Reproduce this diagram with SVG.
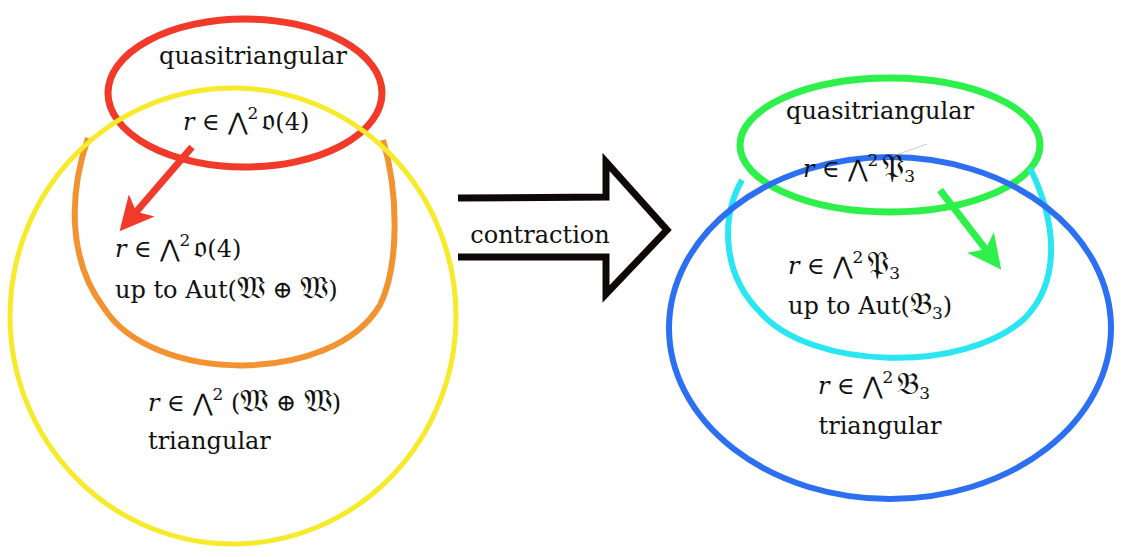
<svg xmlns="http://www.w3.org/2000/svg" width="1125" height="557" viewBox="0 0 1125 557">
<style>
.t{font-family:"DejaVu Serif","Liberation Serif",serif;font-size:24px;fill:#111}
.m{font-size:24px}
.i{font-style:italic}
.f{font-family:"DejaVu Sans","Noto Sans",serif;font-size:31px}
.s{font-size:17px}
</style>
<defs>
<marker id="ahR" viewBox="0 0 10 10" refX="8" refY="5" markerWidth="34" markerHeight="34" markerUnits="userSpaceOnUse" orient="auto"><path d="M0,0 L10,5 L0,10 L2.5,5 z" fill="#f23a2a"/></marker>
<marker id="ahG" viewBox="0 0 10 10" refX="8" refY="5" markerWidth="34" markerHeight="34" markerUnits="userSpaceOnUse" orient="auto"><path d="M0,0 L10,5 L0,10 L2.5,5 z" fill="#2ef04a"/></marker>
</defs>
<rect width="1125" height="557" fill="#fff"/>
<g id="left">
<g id="quasi-left"><ellipse cx="245" cy="93" rx="137" ry="74" fill="none" stroke="#f23a2a" stroke-width="7"/></g>
<g id="aut-left"><path d="M88,138 C70,190 66,258 104,308 C152,384 332,386 380,305 C400,264 398,190 383,140" fill="none" stroke="#f39230" stroke-width="6"/></g>
<g id="tri-left"><ellipse cx="233" cy="316" rx="223" ry="228" fill="none" stroke="#f6ea2a" stroke-width="5"/></g>
</g>
<g id="right">
<g id="quasi-right"><ellipse cx="890" cy="145" rx="150" ry="67" fill="none" stroke="#2ef04a" stroke-width="7"/></g>
<g id="aut-right"><path d="M742,180 C722,215 720,272 760,312 C810,370 965,374 1025,318 C1060,282 1058,225 1030,168" fill="none" stroke="#2ae6f2" stroke-width="6"/></g>
<g id="tri-right"><ellipse cx="890" cy="328" rx="221" ry="171" fill="none" stroke="#2c6ff0" stroke-width="6"/></g>
</g>
<g id="connectors">
<line x1="192" y1="147" x2="124" y2="226" stroke="#f23a2a" stroke-width="7" marker-end="url(#ahR)"/>
<line x1="940" y1="190" x2="997" y2="264" stroke="#2ef04a" stroke-width="7" marker-end="url(#ahG)"/>
<polyline points="458,198 606,197 606,162 667,230 606,294 606,257 458,257" fill="none" stroke="#0e0808" stroke-width="7" stroke-linejoin="miter"/>
<line x1="893" y1="156" x2="927" y2="144" stroke="#bbb" stroke-width="0.8"/>
</g>
<g id="labels">
<text class="t" x="253" y="64" text-anchor="middle">quasitriangular</text>
<text class="t m" x="183" y="130"><tspan class="i">r</tspan> ∈ ⋀<tspan dy="-11" class="s">2</tspan><tspan dy="11" dx="4" class="f">𝔬</tspan>(4)</text>
<text class="t m" x="115" y="257"><tspan class="i">r</tspan> ∈ ⋀<tspan dy="-11" class="s">2</tspan><tspan dy="11" dx="4" class="f">𝔬</tspan>(4)</text>
<text class="t" x="115" y="298">up to Aut(<tspan class="f">𝔚</tspan> ⊕ <tspan class="f">𝔚</tspan>)</text>
<text class="t m" x="148" y="411"><tspan class="i">r</tspan> ∈ ⋀<tspan dy="-11" class="s">2</tspan><tspan dy="11"> (</tspan><tspan class="f">𝔚</tspan> ⊕ <tspan class="f">𝔚</tspan>)</text>
<text class="t" x="148" y="449">triangular</text>
<text class="t" x="540" y="243" text-anchor="middle">contraction</text>
<text class="t" x="880" y="119" text-anchor="middle">quasitriangular</text>
<text class="t m" x="803" y="177"><tspan class="i">r</tspan> ∈ ⋀<tspan dy="-11" class="s">2</tspan><tspan dy="11" dx="4" class="f">𝔓</tspan><tspan dy="5" class="s">3</tspan></text>
<text class="t m" x="788" y="274"><tspan class="i">r</tspan> ∈ ⋀<tspan dy="-11" class="s">2</tspan><tspan dy="11" dx="4" class="f">𝔓</tspan><tspan dy="5" class="s">3</tspan></text>
<text class="t" x="788" y="314">up to Aut(<tspan class="f">𝔅</tspan><tspan dy="5" class="s">3</tspan><tspan dy="-5">)</tspan></text>
<text class="t m" x="818" y="394"><tspan class="i">r</tspan> ∈ ⋀<tspan dy="-11" class="s">2</tspan><tspan dy="11" dx="4" class="f">𝔅</tspan><tspan dy="5" class="s">3</tspan></text>
<text class="t" x="880" y="434" text-anchor="middle">triangular</text>
</g>
</svg>
